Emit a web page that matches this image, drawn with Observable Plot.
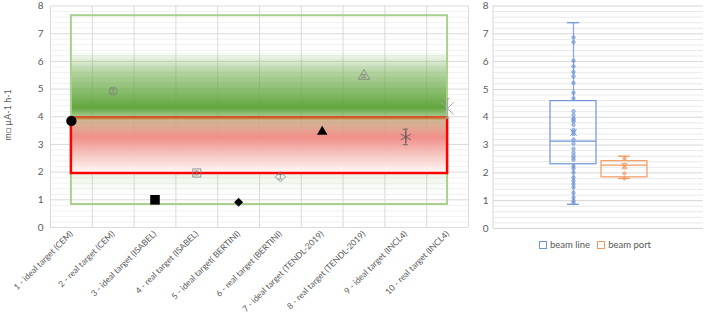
<!DOCTYPE html>
<html><head><meta charset="utf-8">
<script src="https://cdn.jsdelivr.net/npm/d3@7"></script>
<script src="https://cdn.jsdelivr.net/npm/@observablehq/plot@0.6"></script>
<style>
body{margin:0;background:#fff;}
#wrap{position:relative;width:704px;height:314px;overflow:hidden;font-family:Lato,"Liberation Sans",sans-serif;}
#left{position:absolute;left:0;top:0;}
#right{position:absolute;left:480px;top:0;}
#ylab{position:absolute;left:7px;top:115px;transform:translate(-50%,-50%) rotate(-90deg);font-size:9px;color:#595959;white-space:nowrap;}
#legend{position:absolute;left:480px;width:230px;top:239px;display:flex;justify-content:center;gap:7px;font-size:9.5px;color:#595959;}
.item{display:flex;align-items:center;gap:3px}
.sw{width:6px;height:6px;border:1.2px solid;}
</style></head>
<body><div id="wrap"><div id="left"></div><div id="right"></div><div id="ylab"></div><div id="legend"></div></div>
<script>
// ---------- data ----------
const categories = ["1 - ideal target (CEM)","2 - real target (CEM)","3 - ideal target (ISABEL)","4 - real target (ISABEL)","5 - ideal target( BERTINI)","6 - real target (BERTINI)","7 - ideal target (TENDL-2019)","8 - real target (TENDL-2019)","9 - ideal target (INCL4)","10 - real target (INCL4)"];
const values = [3.85, 4.93, 1.00, 1.97, 0.91, 1.83, 3.46, 5.47, 3.27, 4.30];
const errors = [0, 0.07, 0, 0.07, 0, 0.08, 0, 0.05, 0.28, 0.35];
const greenRange = [0.83, 7.65];
const redRange = [1.95, 3.95];
const yTicks = [0, 1, 2, 3, 4, 5, 6, 7, 8];
const yLabel = "m\u25A1 \u00B5A-1 h-1";

const boxSeries = ["beam line", "beam port"];
const boxMin = [0.87, 1.80];
const boxQ1 = [2.31, 1.84];
const boxMedian = [3.14, 2.28];
const boxQ3 = [4.58, 2.42];
const boxMax = [7.40, 2.60];
const boxMean = [3.45, 2.24];
const beamLinePoints = [6.87, 6.70, 6.03, 5.83, 5.63, 5.47, 5.23, 4.88, 4.68, 4.22, 4.08, 3.96, 3.90, 3.85, 3.72, 3.54, 3.47, 3.39, 3.20, 3.05, 2.87, 2.73, 2.62, 2.55, 2.47, 2.25, 2.16, 2.01, 1.84, 1.72, 1.60, 1.48, 1.28, 1.12, 1.00, 0.92];
const beamPortPoints = [2.52, 2.30, 2.19, 1.98, 1.80];

// ---------- derived ----------
const idx = categories.map((_, i) => i + 1);
const edges = idx.map(i => i - 0.5).concat([idx.length + 0.5]);
const rows = categories.map((c, i) => ({i: i + 1, cat: c, v: values[i], e: errors[i]}));
const one = i => rows.filter(d => d.i === i);
const minorTicks = d3.range(0, 41).map(k => k / 5).filter(v => v % 1 !== 0);
const gray = "#808080";

function addDefs(svg, html) {
  const defs = document.createElementNS("http://www.w3.org/2000/svg", "defs");
  defs.innerHTML = html;
  svg.insertBefore(defs, svg.firstChild);
}

function errMarks(list, color, w) {
  return [
    Plot.ruleX(list, {x: "i", y1: d => d.v - d.e, y2: d => d.v + d.e, stroke: color, strokeWidth: w}),
    Plot.ruleY(list, {y: d => d.v + d.e, x1: d => d.i - 0.06, x2: d => d.i + 0.06, stroke: color, strokeWidth: w}),
    Plot.ruleY(list, {y: d => d.v - d.e, x1: d => d.i - 0.06, x2: d => d.i + 0.06, stroke: color, strokeWidth: w})
  ];
}

const left = Plot.plot({
  width: 480, height: 314,
  marginLeft: 50, marginRight: 12, marginTop: 5.5, marginBottom: 87,
  style: {fontFamily: "Lato, 'Liberation Sans', sans-serif", color: "#595959", background: "transparent", overflow: "visible"},
  x: {domain: [0.5, 10.5], axis: null},
  y: {domain: [0, 8], axis: null},
  marks: [
    Plot.ruleY(minorTicks, {stroke: "#f1f1f1"}),
    Plot.ruleY(yTicks, {stroke: "#dadada"}),
    Plot.ruleX(edges, {stroke: "#dadada"}),
    Plot.rect([greenRange], {x1: 1, x2: 10, y1: d => d[0], y2: d => d[1], fill: "url(#gGreen)"}),
    Plot.rect([redRange], {x1: 1, x2: 10, y1: d => d[0], y2: d => d[1], fill: "url(#gRed)"}),
    Plot.rect([greenRange], {x1: 1, x2: 10, y1: d => d[0], y2: d => d[1], fill: "none", stroke: "#a9d18e", strokeWidth: 2}),
    Plot.rect([redRange], {x1: 1, x2: 10, y1: d => d[0], y2: d => d[1], fill: "none", stroke: "#ff0000", strokeWidth: 2.5}),
    Plot.ruleY([redRange[1]], {x1: 1, x2: 10, stroke: "#c4803c", strokeWidth: 2}),
    // filled markers (ideal targets)
    Plot.dot(one(1), {x: "i", y: "v", symbol: "circle", r: 5.2, fill: "black"}),
    Plot.dot(one(3), {x: "i", y: "v", symbol: "square", r: 5.4, fill: "black"}),
    Plot.dot(one(5), {x: "i", y: "v", symbol: "diamond2", r: 4, fill: "black"}),
    Plot.dot(one(7), {x: "i", y: "v", symbol: "triangle", r: 3.9, fill: "black"}),
    // open markers (real targets)
    Plot.dot(one(2), {x: "i", y: "v", symbol: "circle", r: 4, fill: "none", stroke: gray, strokeWidth: 0.8}),
    Plot.dot(one(4), {x: "i", y: "v", symbol: "square", r: 4.6, fill: "none", stroke: gray, strokeWidth: 0.8}),
    Plot.dot(one(6), {x: "i", y: "v", symbol: "diamond2", r: 4.6, fill: "none", stroke: gray, strokeWidth: 0.8}),
    Plot.dot(one(8), {x: "i", y: "v", symbol: "triangle", r: 4.2, fill: "none", stroke: gray, strokeWidth: 0.8}),
    ...errMarks(rows.filter(d => d.e > 0 && d.i < 9), gray, 0.8),
    Plot.dot(one(9), {x: "i", y: "v", symbol: "asterisk", r: 5.5, stroke: "#5a5a5a", strokeWidth: 0.9}),
    ...errMarks(one(9), "#5a5a5a", 0.9),
    Plot.dot(one(10), {x: "i", y: "v", symbol: "times", r: 5.6, stroke: "#a8a8a8", strokeWidth: 1}),
    ...errMarks(one(10), "#a8a8a8", 1),
    Plot.axisY({ticks: yTicks, tickSize: 0, tickPadding: 7, fontSize: 10, label: null}),
    Plot.axisX({ticks: idx, tickFormat: i => categories[i - 1], tickRotate: -45, tickSize: 0, tickPadding: 5, fontSize: 8.5, label: null})
  ]
});
addDefs(left, `
<linearGradient id="gGreen" x1="0" y1="0" x2="0" y2="1">
  <stop offset="0" stop-color="#6aaa46" stop-opacity="0"/>
  <stop offset="0.19" stop-color="#6aaa46" stop-opacity="0"/>
  <stop offset="0.30" stop-color="#6aaa46" stop-opacity="0.5"/>
  <stop offset="0.49" stop-color="#62a63e" stop-opacity="1"/>
  <stop offset="0.535" stop-color="#6aaa46" stop-opacity="0.62"/>
  <stop offset="0.68" stop-color="#6aaa46" stop-opacity="0.3"/>
  <stop offset="0.84" stop-color="#6aaa46" stop-opacity="0.12"/>
  <stop offset="0.95" stop-color="#6aaa46" stop-opacity="0"/>
  <stop offset="1" stop-color="#6aaa46" stop-opacity="0"/>
</linearGradient>
<linearGradient id="gRed" x1="0" y1="0" x2="0" y2="1">
  <stop offset="0" stop-color="#f0a090" stop-opacity="0.45"/>
  <stop offset="0.35" stop-color="#f48a86" stop-opacity="0.95"/>
  <stop offset="0.7" stop-color="#f8c8c4" stop-opacity="0.92"/>
  <stop offset="1" stop-color="#fffafa" stop-opacity="0.95"/>
</linearGradient>`);
document.getElementById("left").appendChild(left);
document.getElementById("ylab").textContent = yLabel;

// ---------- right: box plot ----------
const boxRows = boxSeries.map((s, k) => ({s, min: boxMin[k], q1: boxQ1[k], median: boxMedian[k], q3: boxQ3[k], max: boxMax[k], mean: boxMean[k]}));
const ptsRows = beamLinePoints.map(v => ({s: boxSeries[0], v})).concat(beamPortPoints.map(v => ({s: boxSeries[1], v})));
const boxColors = ["#6f95d9", "#f2995e"];

const right = Plot.plot({
  width: 224, height: 236,
  marginLeft: 13, marginRight: 1, marginTop: 5.5, marginBottom: 8,
  style: {fontFamily: "Lato, 'Liberation Sans', sans-serif", color: "#595959", background: "transparent", overflow: "visible"},
  x: {type: "band", domain: boxSeries, paddingInner: 0.1, paddingOuter: 1.08, axis: null},
  y: {domain: [0, 8], axis: null},
  color: {domain: boxSeries, range: boxColors},
  marks: [
    Plot.ruleY(minorTicks, {stroke: "#e9e9e9"}),
    Plot.ruleY(yTicks, {stroke: "#d6d6d6"}),
    Plot.ruleX(boxRows, {x: "s", y1: "q3", y2: "max", stroke: "s", strokeWidth: 1.3, strokeOpacity: 0.8}),
    Plot.ruleX(boxRows, {x: "s", y1: "min", y2: "q1", stroke: "s", strokeWidth: 1.3, strokeOpacity: 0.8}),
    Plot.tickY(boxRows, {x: "s", y: "max", stroke: "s", strokeWidth: 1.3, insetLeft: 17, insetRight: 17}),
    Plot.tickY(boxRows, {x: "s", y: "min", stroke: "s", strokeWidth: 1.3, insetLeft: 17, insetRight: 17}),
    Plot.barY(boxRows, {x: "s", y1: "q1", y2: "q3", fill: "none", stroke: "s", strokeWidth: 1.2}),
    Plot.tickY(boxRows, {x: "s", y: "median", stroke: "s", strokeWidth: 1.1}),
    Plot.dot(ptsRows, {x: "s", y: "v", r: 1.7, fill: "s", fillOpacity: 0.55, stroke: "s", strokeWidth: 0.7}),
    Plot.dot(boxRows, {x: "s", y: "mean", symbol: "times", r: 3, stroke: "s", strokeWidth: 1}),
    Plot.axisY({ticks: yTicks, tickSize: 0, tickPadding: 5, fontSize: 10, label: null})
  ]
});
{
  const ys = right.scale("y");
  const line = document.createElementNS("http://www.w3.org/2000/svg", "line");
  line.setAttribute("x1", 13); line.setAttribute("x2", 13);
  line.setAttribute("y1", ys.apply(8)); line.setAttribute("y2", ys.apply(0));
  line.setAttribute("stroke", "#d6d6d6");
  right.appendChild(line);
}
document.getElementById("right").appendChild(right);

const legend = document.getElementById("legend");
boxSeries.forEach((s, k) => {
  const it = document.createElement("div");
  it.className = "item";
  it.innerHTML = `<span class="sw" style="border-color:${boxColors[k]}"></span><span>${s}</span>`;
  legend.appendChild(it);
});
</script>
</body></html>
